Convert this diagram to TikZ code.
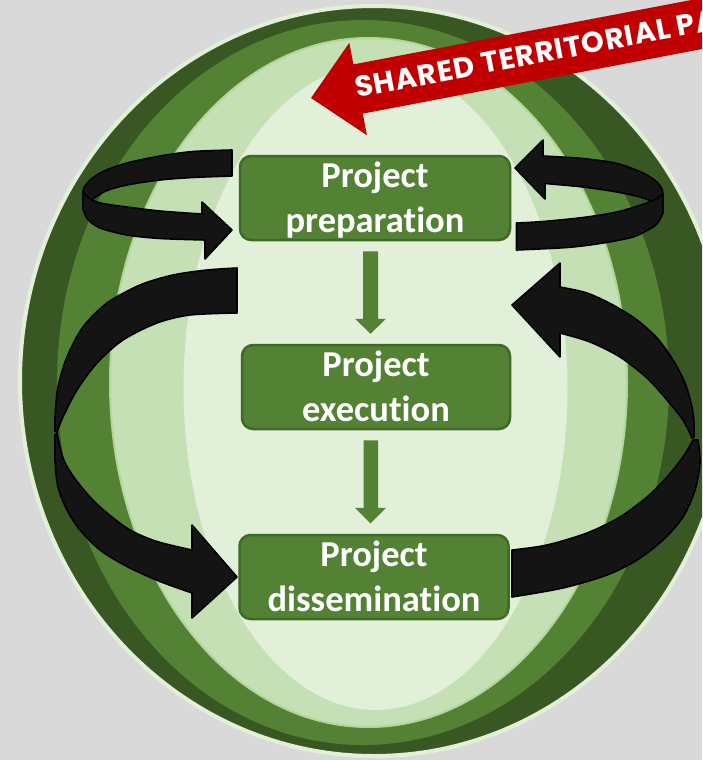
\documentclass[tikz,border=0pt]{standalone}
\usepackage{fontspec}
\setmainfont{Carlito}[Ligatures={NoCommon}]
\newfontfamily\bannerfont{Poppins}[LetterSpace=3.5]
\usetikzlibrary{calc}
\definecolor{bggray}{HTML}{D9D9D9}
\definecolor{darkgreen}{HTML}{385723}
\definecolor{medgreen}{HTML}{548235}
\definecolor{lightgreen}{HTML}{C5E0B4}
\definecolor{vlight}{HTML}{E2F0D9}
\definecolor{palerim}{HTML}{E2F0D9}
\definecolor{rimgreen}{HTML}{B2D69A}
\definecolor{boxedge}{HTML}{3E6A27}
\definecolor{bannerred}{HTML}{C00000}
\definecolor{arrowfill}{HTML}{141414}
\tikzset{
  blk/.style={fill=arrowfill, draw=black, line width=1.6pt, line join=round},
  gbox/.style={rectangle, rounded corners=11pt, fill=medgreen, draw=boxedge, line width=2.5pt, minimum height=84pt, inner sep=0pt},
  btxt/.style={text=white, font=\bfseries\fontsize{36.5}{44}\selectfont, inner sep=0pt},
  garrow/.style={fill=medgreen},
  banner/.style={fill=bannerred},
  bantext/.style={text=white, font=\bannerfont\bfseries\fontsize{29}{30}\selectfont, inner sep=0pt},
}
\begin{document}
\begin{tikzpicture}[x=1pt,y=-1pt]
\useasboundingbox (0,0) rectangle (702,760);
\clip (0,0) rectangle (702,760);
\fill[bggray] (0,0) rectangle (702,760);
% nested ellipses
\filldraw[fill=darkgreen, draw=palerim, line width=4pt] (374,381) ellipse [x radius=354pt, y radius=375pt];
\fill[medgreen] (363,382.5) ellipse [x radius=306pt, y radius=362.5pt];
\filldraw[fill=lightgreen, draw=rimgreen, line width=2pt] (368.5,382.5) ellipse [x radius=258.5pt, y radius=344.5pt];
\fill[vlight] (375.5,387.5) ellipse [x radius=192pt, y radius=322.5pt];

% left small loop (back band)
\filldraw[blk] plot[smooth] coordinates {(232,150) (193,151.5) (160,156) (127,163) (103,171.5) (89,181) (84,188) (83,192)}
  -- plot[smooth] coordinates {(83,209) (88,203) (95,197.5) (107,190.5) (127,185) (160,180) (193,177.5) (232,176)} -- cycle;
% left small loop (front band with head)
\filldraw[blk] plot[smooth] coordinates {(83,192) (91,199.5) (103,203.5) (127,207) (160,211) (202,214)}
  -- (202,202) -- (232,230) -- (205,259)
  -- plot[smooth] coordinates {(205,240) (160,238.5) (127,235) (100,228) (88,219.5) (83,209)} -- cycle;

% right small loop (back band with head)
\filldraw[blk] (515,168) -- (543,140)
  -- plot[smooth] coordinates {(543,156) (583,158.5) (617,163.5) (643,173) (657,182) (662,189) (663,194)}
  -- plot[smooth] coordinates {(663,213) (660,207) (653,202) (640,197) (617,192) (583,187) (545,183.5)}
  -- (545,199) -- cycle;
% right small loop (front band)
\filldraw[blk] plot[smooth] coordinates {(516.5,223) (543,221.5) (583,217.5) (617,212) (647,203) (659,197) (663,194)}
  -- plot[smooth] coordinates {(663,213) (659,221) (653,227) (633,237) (600,243.5) (567,247.5) (516.5,250)} -- cycle;

% left big arrow (back band)
\filldraw[blk] plot[smooth] coordinates {(237,268) (207,270) (173,275) (140,285) (107,303) (83,327) (67,357) (58,387) (55,417) (55,431)}
  -- plot[smooth] coordinates {(57,432) (63,417) (77,390) (97,363) (123,340) (157,323) (190,315) (237,313)} -- cycle;
% left big arrow (front band with head)
\filldraw[blk] plot[smooth] coordinates {(57,433) (63,458) (73,476) (90,497) (107,513) (130,530) (157,541.5) (192,550)}
  -- (192,525) -- (237,577) -- (192,618)
  -- plot[smooth] coordinates {(192,593) (160,581.5) (127,566.5) (100,550) (80,530) (67,510) (58,487) (55,460) (55,435)} -- cycle;

% right big arrow (back band with head)
\filldraw[blk] (512,305) -- (560,263)
  -- plot[smooth] coordinates {(560,287) (587,293) (613,305) (637,320) (657,338) (673,360) (685,383) (692,407) (694,423) (694,437)}
  -- plot[smooth] coordinates {(692,438) (683,420) (667,400) (647,378) (620,357) (590,342) (560,333)}
  -- (560,357) -- cycle;
% right big arrow (front band)
\filldraw[blk] plot[smooth] coordinates {(512,550) (547,545) (587,533) (620,517) (647,497) (667,477) (683,457) (693,440)}
  -- plot[smooth] coordinates {(698,440) (700,463) (695,490) (683,517) (663,540) (637,560) (607,575) (563,588) (512,597)} -- cycle;

% boxes
\node[gbox, minimum width=270pt] (prep) at (375,198) {};
\node[gbox, minimum width=268pt] (exec) at (376,387) {};
\node[gbox, minimum width=269pt] (diss) at (374,577) {};
\node[btxt, anchor=base] (prepA) at (375,187.5) {Project};
\node[btxt, anchor=base] (prepB) at (375,232) {preparation};
\node[btxt, anchor=base] (execA) at (376,376.7) {Project};
\node[btxt, anchor=base] (execB) at (376,421.7) {execution};
\node[btxt, anchor=base] (dissA) at (374,566.3) {Project};
\node[btxt, anchor=base] (dissB) at (374,611.7) {dissemination};

% green connectors
\fill[garrow] ($(prep.south)+(-12,10)$) -- ($(exec.north)+(-13,-25)$) -- ($(exec.north)+(-21,-25)$)
  -- ($(exec.north)+(-5.5,-10)$) -- ($(exec.north)+(10,-25)$) -- ($(exec.north)+(2,-25)$)
  -- ($(prep.south)+(3,10)$) -- cycle;
\fill[garrow] ($(exec.south)+(-12.5,10)$) -- ($(diss.north)+(-10.5,-26)$) -- ($(diss.north)+(-19,-26)$)
  -- ($(diss.north)+(-3.5,-10.5)$) -- ($(diss.north)+(12,-26)$) -- ($(diss.north)+(4,-26)$)
  -- ($(exec.south)+(2,10)$) -- cycle;

% red banner
\fill[banner] (311,98) -- (349.3,42.8) -- (353.4,64.4) -- (748,-10.8) -- (757.6,38.4) -- (362.8,113.6) -- (366.9,135.2) -- cycle;
\node[bantext, anchor=base west, rotate=10.8] (bannertxt) at (357,98) {SHARED TERRITORIAL PA};
\end{tikzpicture}
\end{document}
